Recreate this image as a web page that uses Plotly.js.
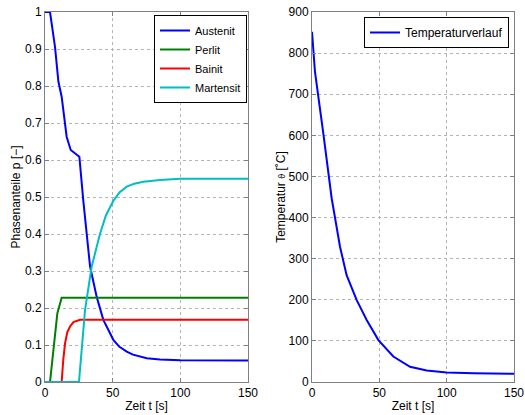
<!DOCTYPE html>
<html>
<head>
<meta charset="utf-8">
<script src="https://cdn.plot.ly/plotly-3.0.1.min.js"></script>
<style>html,body{margin:0;padding:0;background:#fff;}#chart{width:525px;height:415px;}</style>
</head>
<body>
<div id="chart"></div>
<script>
// Phase fractions (left panel)
const tAustenit = [0, 3.7, 7.4, 9.9, 12.3, 16, 19, 25.4, 28.3, 33.3, 38.2, 43.1, 50.5, 55, 60.4, 65, 75.2, 85, 100, 120, 150];
const pAustenit = [1, 1, 0.906, 0.812, 0.771, 0.663, 0.627, 0.609, 0.49, 0.312, 0.23, 0.168, 0.114, 0.095, 0.082, 0.074, 0.064, 0.061, 0.059, 0.058, 0.058];
const tPerlit = [0, 3.7, 9.1, 12.3, 150];
const pPerlit = [0, 0, 0.185, 0.228, 0.228];
const tBainit = [0, 12.3, 13.5, 14.8, 16.5, 18.5, 21, 25.9, 150];
const pBainit = [0, 0, 0.06, 0.104, 0.135, 0.15, 0.162, 0.168, 0.168];
const tMartensit = [0, 25.1, 29.6, 34.5, 40.6, 45, 50.5, 55, 60.4, 66, 72.7, 85, 100, 150];
const pMartensit = [0, 0, 0.195, 0.312, 0.40, 0.45, 0.49, 0.512, 0.528, 0.536, 0.541, 0.546, 0.549, 0.549];
// Temperature (right panel)
const tTemp = [0, 2.2, 8.4, 14.6, 20.8, 25.7, 33.2, 40.6, 49.3, 60.4, 72.8, 85.2, 100, 120, 150];
const TTemp = [852, 755, 605, 447, 329, 260, 199, 151, 102, 62, 37, 28, 23, 21, 20];

const xTicks = [0, 50, 100, 150];
const y1Ticks = [0, 0.1, 0.2, 0.3, 0.4, 0.5, 0.6, 0.7, 0.8, 0.9, 1];
const y1Labels = ['0', '0.1', '0.2', '0.3', '0.4', '0.5', '0.6', '0.7', '0.8', '0.9', '1'];
const y2Ticks = [0, 100, 200, 300, 400, 500, 600, 700, 800, 900];

const FONT = 'Liberation Sans, Arial, sans-serif';
const lw = 2;
const traces = [
  {x: tAustenit, y: pAustenit, name: 'Austenit', mode: 'lines', line: {color: '#0000ff', width: lw}, xaxis: 'x', yaxis: 'y', legend: 'legend'},
  {x: tPerlit, y: pPerlit, name: 'Perlit', mode: 'lines', line: {color: '#008000', width: lw}, xaxis: 'x', yaxis: 'y', legend: 'legend'},
  {x: tBainit, y: pBainit, name: 'Bainit', mode: 'lines', line: {color: '#ff0000', width: lw}, xaxis: 'x', yaxis: 'y', legend: 'legend'},
  {x: tMartensit, y: pMartensit, name: 'Martensit', mode: 'lines', line: {color: '#00bfbf', width: lw}, xaxis: 'x', yaxis: 'y', legend: 'legend'},
  {x: tTemp, y: TTemp, name: 'Temperaturverlauf', mode: 'lines', line: {color: '#0000ff', width: lw}, xaxis: 'x2', yaxis: 'y2', legend: 'legend2'}
];

const axBase = {
  showline: true, linecolor: '#7f7f7f', linewidth: 1, mirror: 'ticks',
  ticks: 'inside', ticklen: 4, tickcolor: '#7f7f7f',
  showgrid: true, gridcolor: '#b4b4b4', griddash: 'dot', gridwidth: 1,
  zeroline: false, tickfont: {family: FONT, size: 12, color: '#000'}
};
const L = 45, R = 11, T = 12, B = 33;
const W = 525 - L - R;
const layout = {
  width: 525, height: 415,
  margin: {l: L, r: R, t: T, b: B},
  paper_bgcolor: '#fff', plot_bgcolor: '#fff',
  font: {family: FONT, size: 12, color: '#000'},
  xaxis: Object.assign({}, axBase, {domain: [0, 203 / W], range: [0, 150], tickvals: xTicks, anchor: 'y',
    title: {text: 'Zeit t [s]', standoff: 2, font: {family: FONT, size: 12}}}),
  yaxis: Object.assign({}, axBase, {domain: [0, 1], range: [0, 1], tickvals: y1Ticks, ticktext: y1Labels, anchor: 'x',
    title: {text: 'Phasenanteile p [−]', standoff: 1, font: {family: FONT, size: 12}}}),
  xaxis2: Object.assign({}, axBase, {domain: [(312 - L) / W, 1], range: [0, 150], tickvals: xTicks, anchor: 'y2',
    title: {text: 'Zeit t [s]', standoff: 2, font: {family: FONT, size: 12}}}),
  yaxis2: Object.assign({}, axBase, {domain: [0, 1], range: [0, 900], tickvals: y2Ticks, anchor: 'x2',
    title: {text: 'Temperatur <span style="font-size:9px">ϑ</span> [˚C]', standoff: 0, font: {family: FONT, size: 12}}}),
  legend: {x: (247 - L) / W, xanchor: 'right', y: (382 - 15) / 370, yanchor: 'top', xref: 'paper', yref: 'paper',
    bgcolor: '#fff', bordercolor: '#000', borderwidth: 1, font: {family: FONT, size: 11}, tracegroupgap: 0},
  legend2: {x: (509 - L) / W, xanchor: 'right', y: (382 - 17) / 370, yanchor: 'top', xref: 'paper', yref: 'paper',
    bgcolor: '#fff', bordercolor: '#000', borderwidth: 1, font: {family: FONT, size: 12}},
  showlegend: true
};
Plotly.newPlot('chart', traces, layout, {displayModeBar: false, staticPlot: true});
</script>
</body>
</html>
